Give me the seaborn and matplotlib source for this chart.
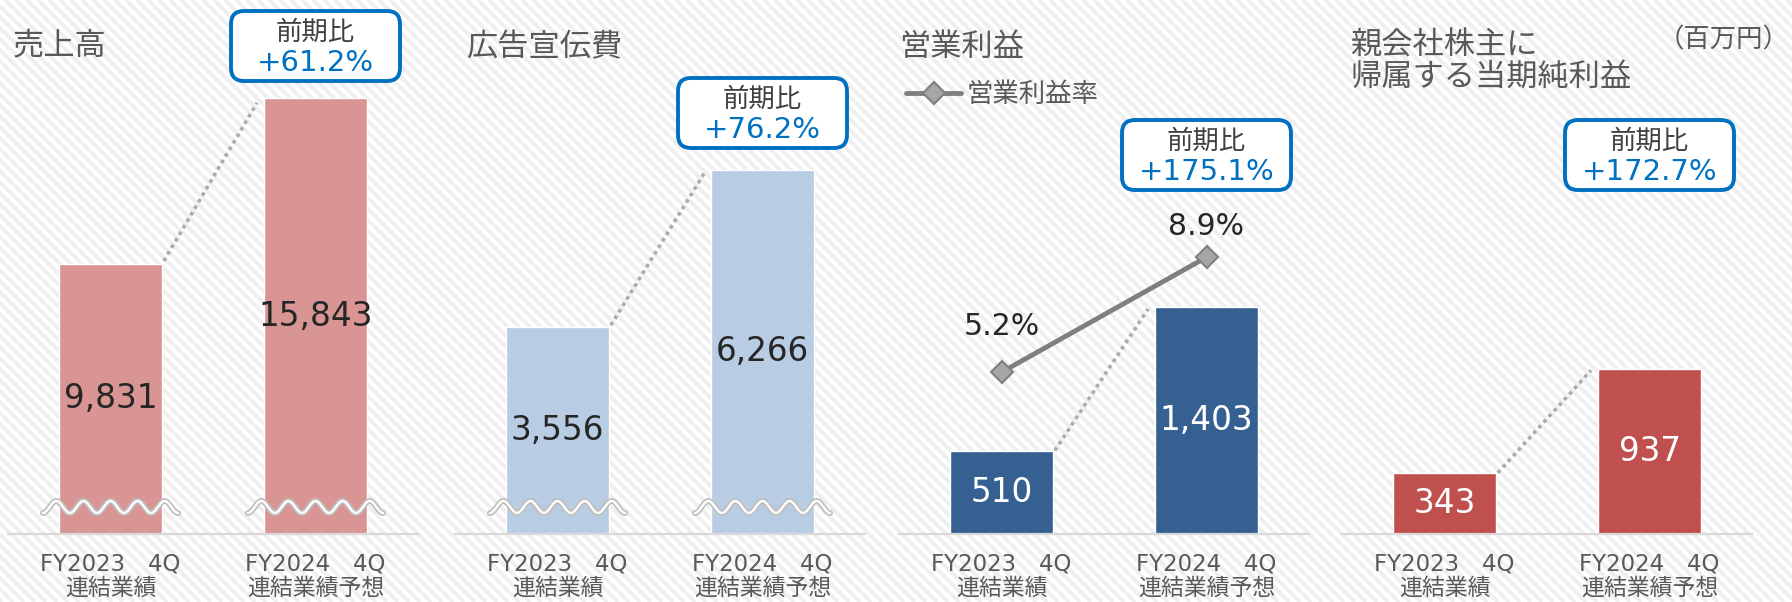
import numpy as np
import matplotlib.pyplot as plt
import seaborn as sns
from matplotlib.patches import FancyBboxPatch
from matplotlib.transforms import IdentityTransform
from matplotlib.collections import LineCollection

# data (百万円)
categories = ["FY2023　4Q\n連結業績", "FY2024　4Q\n連結業績予想"]
sales = [9831, 15843]
ad_cost = [3556, 6266]
op_profit = [510, 1403]
net_income = [343, 937]
op_margin = [5.2, 8.9]
titles = ["売上高", "広告宣伝費", "営業利益", "親会社株主に\n帰属する当期純利益"]
yoy_labels = ["+61.2%", "+76.2%", "+175.1%", "+172.7%"]

values = [sales, ad_cost, op_profit, net_income]
colors = ["#D99594", "#B8CCE4", "#366092", "#C0504D"]
label_colors = ["#262626", "#262626", "white", "white"]
ymax = [19420, 9190, 3296, 3025]
broken = [True, True, False, False]

# layout in pixels
W, H = 1792, 602
base = 534
lefts = [8, 455, 899, 1342]
title_x = [5, 11, 0, 8]
title_y = [47, 48, 47, 61]
box_y = [46, 113, 155, 155]

sns.set_style("white")
plt.rcParams['font.family'] = ['DejaVu Sans', 'Noto Sans CJK JP']

fig = plt.figure(figsize=(W / 100, H / 100), dpi=100)
fig.patch.set_facecolor("white")

# striped background
bg = fig.add_axes([0, 0, 1, 1], zorder=-10)
bg.set_xlim(0, W)
bg.set_ylim(0, H)
segs = [[(c, H), (c + H, 0)] for c in np.arange(-H - 20, W + 20, 11)]
bg.add_collection(LineCollection(segs, colors="#EFEFEF", linewidths=2.8))
bg.axis("off")

grey = "#595959"
for k in range(4):
    vals = values[k]
    ax = fig.add_axes([lefts[k] / W, (H - base) / H, 410 / W, base / H])
    ax.patch.set_alpha(0)
    sns.barplot(x=categories, y=vals, color=colors[k], saturation=1, width=0.5, ax=ax)
    ax.set_xlim(-0.5, 1.5)
    ax.set_ylim(0, ymax[k])
    for s in ["left", "top", "right"]:
        ax.spines[s].set_visible(False)
    ax.spines["bottom"].set_color("#D9D9D9")
    ax.spines["bottom"].set_linewidth(1.6)
    ax.set_yticks([])
    ax.set_xlabel("")
    ax.set_ylabel("")
    ax.set_xticks([-0.5, 0.5, 1.5], minor=True)
    ax.tick_params(axis="x", which="minor", length=7, width=1.6, color="#D9D9D9", direction="out")
    ax.tick_params(axis="x", which="major", length=0, pad=13, labelsize=16.5, labelcolor=grey)
    for lab in ax.get_xticklabels():
        lab.set_linespacing(1.12)

    for i, v in enumerate(vals):
        ax.text(i, v / 2, f"{v:,}", ha="center", va="center", fontsize=23.5, color=label_colors[k], zorder=5)

    # dotted connector
    ax.plot([0.26, 0.715], [vals[0] * 1.01, vals[1] * 0.99], color="#ABABAB", lw=2.6,
            ls=(0, (1, 1.1)), zorder=3)

    # wavy break marks
    if broken[k]:
        per_px = ymax[k] / base
        xs = np.linspace(-0.33, 0.33, 300)
        for i in range(2):
            ys = 27 * per_px - 6 * per_px * np.cos(2 * np.pi * 5 * (xs + 0.33) / 0.66)
            ax.plot(xs + i, ys, color="#BFBFBF", lw=4.2, zorder=4, solid_capstyle="round")
            ax.plot(xs + i, ys, color="white", lw=1.7, zorder=4.5)

    ax.text(title_x[k] / 410, (base - title_y[k]) / base, titles[k], transform=ax.transAxes,
            fontsize=22.5, color=grey, ha="left", va="center", linespacing=1.1)

    # operating margin line
    if k == 2:
        ax2 = ax.twinx()
        sns.lineplot(x=[0, 1], y=op_margin, ax=ax2, color="#7F7F7F", lw=3.5, marker="D",
                     markersize=11, markerfacecolor="#A6A6A6", markeredgecolor="#7F7F7F",
                     markeredgewidth=1.5, label="営業利益率")
        ax2.set_ylim(0, base / 31.1)
        ax2.set_xlim(-0.5, 1.5)
        for s in ax2.spines.values():
            s.set_visible(False)
        ax2.set_yticks([])
        ax2.set_ylabel("")
        offs = [33, 22]
        for i, m in enumerate(op_margin):
            ax2.annotate(f"{m}%", (i, m), xytext=(0, offs[i]), textcoords="offset points",
                         ha="center", va="center", fontsize=21.5, color="#262626")
        ax2.legend(loc="center left", bbox_to_anchor=(0.017, 0.822), frameon=False, fontsize=19,
                   handlelength=2.1, handletextpad=0.2, borderpad=0, borderaxespad=0,
                   labelcolor=grey)

    # year-on-year callout
    cx = ax.transData.transform((1, 0))[0]
    cy = H - box_y[k]
    fig.add_artist(FancyBboxPatch((cx - 84.5, cy - 35), 169, 70,
                                  boxstyle="round,pad=0,rounding_size=13", lw=2.8,
                                  ec="#0070C0", fc="white", transform=IdentityTransform(), zorder=6))
    fig.text(cx, cy + 13, "前期比", transform=IdentityTransform(), ha="center", va="center",
             fontsize=19, color="#404040", zorder=7)
    fig.text(cx, cy - 17, yoy_labels[k], transform=IdentityTransform(), ha="center", va="center",
             fontsize=21, color="#0070C0", zorder=7)

fig.text(1.0 - 2 / W, 1 - 40 / H, "（百万円）", ha="right", va="center", fontsize=19, color=grey)

fig.savefig("out.png", dpi=100)
